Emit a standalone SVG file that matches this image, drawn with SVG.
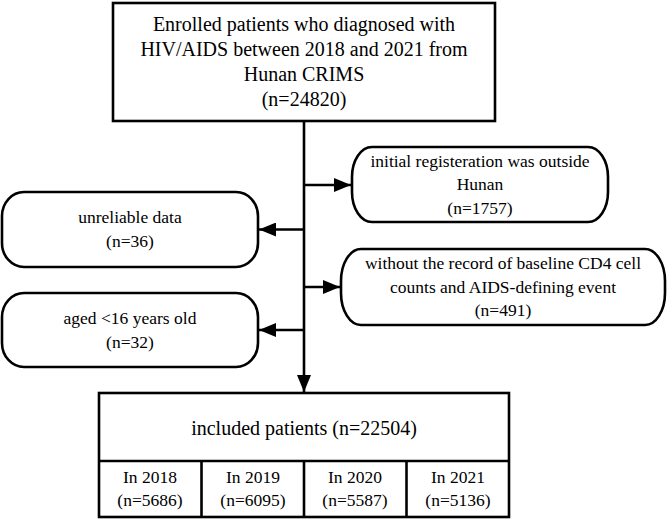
<svg xmlns="http://www.w3.org/2000/svg" width="669" height="520" viewBox="0 0 669 520">
<style>
  .box { fill: #ffffff; stroke: #000000; stroke-width: 2.6; }
  .line { fill: none; stroke: #000000; stroke-width: 2.6; }
  text { font-family: "Liberation Serif", "Times New Roman", serif; fill: #000000; text-anchor: middle; }
  .t20 { font-size: 20px; }
  .t17 { font-size: 17.5px; }
</style>
<defs>
  <marker id="arrow" markerUnits="userSpaceOnUse" markerWidth="18" markerHeight="14" refX="17" refY="7" orient="auto">
    <path d="M0,0 L17,7 L0,14 Z" fill="#000000"/>
  </marker>
</defs>
<rect x="0" y="0" width="669" height="520" fill="#ffffff"/>
<g id="connectors">
  <path class="line" d="M304,121 L304,392" marker-end="url(#arrow)"/>
  <path class="line" d="M304,185 L351,185" marker-end="url(#arrow)"/>
  <path class="line" d="M304,229.5 L259,229.5" marker-end="url(#arrow)"/>
  <path class="line" d="M304,287 L340,287" marker-end="url(#arrow)"/>
  <path class="line" d="M304,330 L259,330" marker-end="url(#arrow)"/>
</g>
<g id="enrolled">
  <rect class="box" x="113" y="3" width="382" height="118"/>
  <text class="t20" x="304" y="31">Enrolled patients who diagnosed with</text>
  <text class="t20" x="304" y="56">HIV/AIDS between 2018 and 2021 from</text>
  <text class="t20" x="304" y="81">Hunan CRIMS</text>
  <text class="t20" x="304" y="106">(n=24820)</text>
</g>
<g id="outside-hunan">
  <rect class="box" x="352" y="147" width="256" height="75" rx="20" ry="30"/>
  <text class="t17" x="480" y="166.5">initial registeration was outside</text>
  <text class="t17" x="480" y="190">Hunan</text>
  <text class="t17" x="480" y="213.5">(n=1757)</text>
</g>
<g id="unreliable">
  <rect class="box" x="2" y="192" width="256" height="75" rx="22" ry="24"/>
  <text class="t17" x="130" y="223">unreliable data</text>
  <text class="t17" x="130" y="247">(n=36)</text>
</g>
<g id="no-record">
  <rect class="box" x="341" y="249" width="324" height="76" rx="20" ry="32"/>
  <text class="t17" x="503" y="269">without the record of baseline CD4 cell</text>
  <text class="t17" x="503" y="292.5">counts and AIDS-defining event</text>
  <text class="t17" x="503" y="316">(n=491)</text>
</g>
<g id="aged">
  <rect class="box" x="2" y="293" width="256" height="74" rx="22" ry="24"/>
  <text class="t17" x="130" y="324">aged &lt;16 years old</text>
  <text class="t17" x="130" y="348">(n=32)</text>
</g>
<g id="included">
  <rect class="box" x="99" y="393" width="410" height="124"/>
  <line class="line" x1="99" y1="461" x2="509" y2="461"/>
  <line class="line" x1="201.5" y1="461" x2="201.5" y2="517"/>
  <line class="line" x1="304" y1="461" x2="304" y2="517"/>
  <line class="line" x1="406.5" y1="461" x2="406.5" y2="517"/>
  <text class="t20" x="304" y="435">included patients (n=22504)</text>
</g>
<g id="y2018">
  <text class="t17" x="150" y="483">In 2018</text>
  <text class="t17" x="150" y="506">(n=5686)</text>
</g>
<g id="y2019">
  <text class="t17" x="253" y="483">In 2019</text>
  <text class="t17" x="253" y="506">(n=6095)</text>
</g>
<g id="y2020">
  <text class="t17" x="355" y="483">In 2020</text>
  <text class="t17" x="355" y="506">(n=5587)</text>
</g>
<g id="y2021">
  <text class="t17" x="458" y="483">In 2021</text>
  <text class="t17" x="458" y="506">(n=5136)</text>
</g>
</svg>
